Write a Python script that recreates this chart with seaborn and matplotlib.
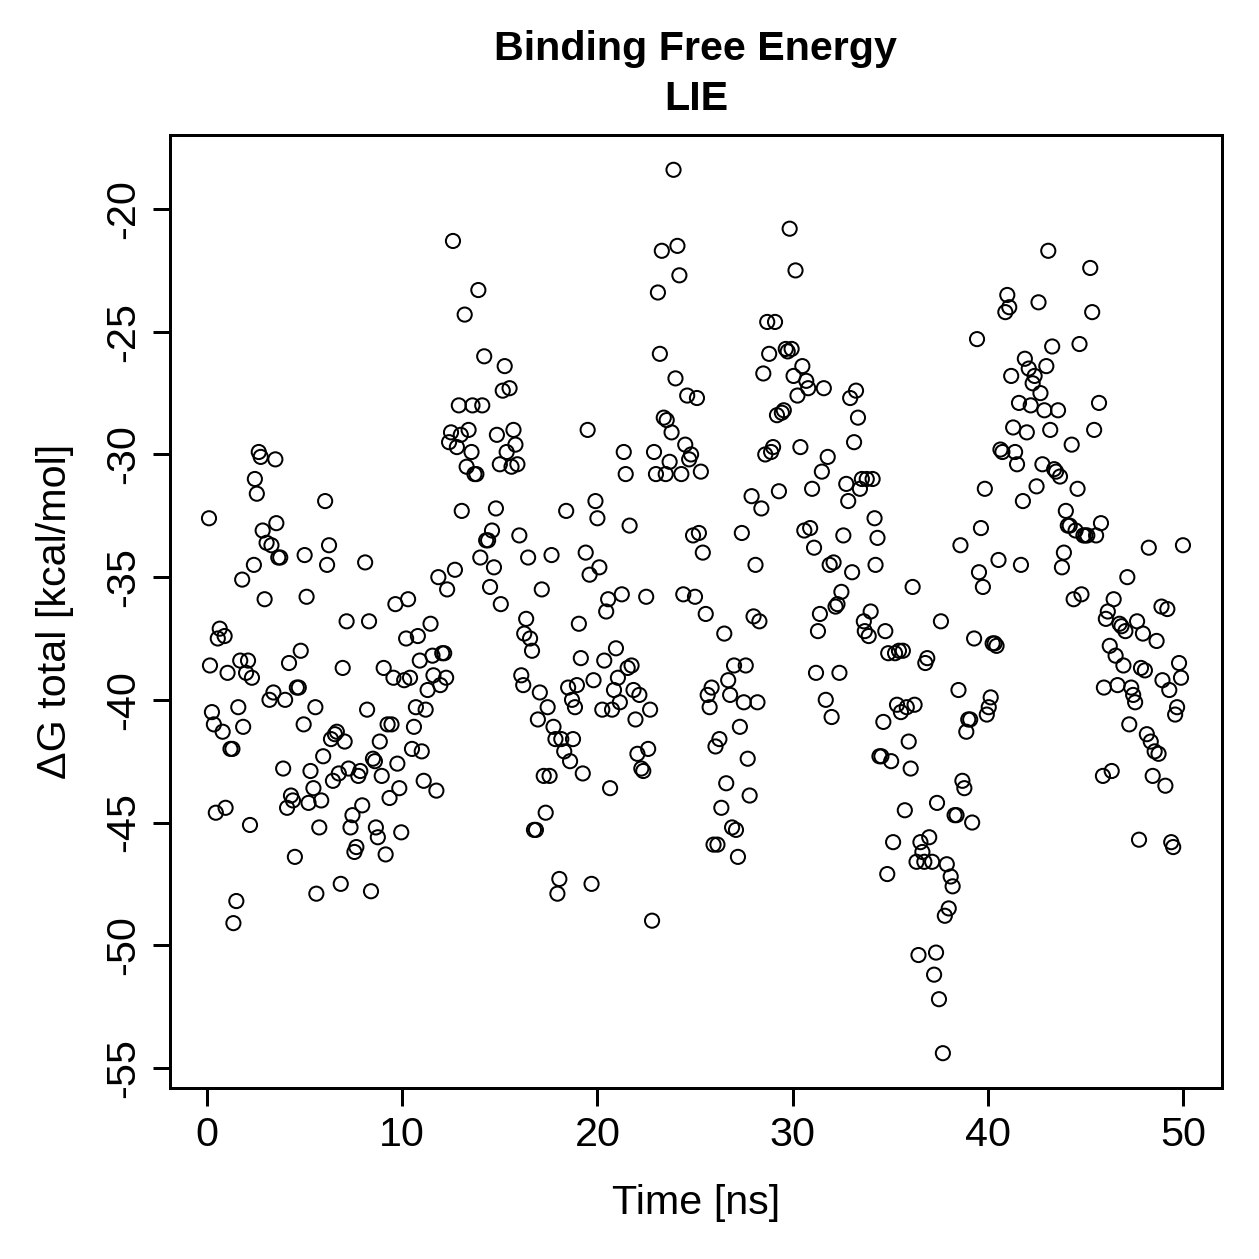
import numpy as np
import pandas as pd
import matplotlib
matplotlib.use('Agg')
import matplotlib.pyplot as plt
import seaborn as sns

# Time [ns] and Delta G total [kcal/mol]
time_ns = [
    0.1, 0.15, 0.25, 0.35, 0.45, 0.55, 0.65, 0.8, 0.9, 0.95, 1.05, 1.2, 1.3, 1.35, 1.5, 1.6, 1.7, 1.8, 1.85, 2.0,
    2.1, 2.2, 2.3, 2.4, 2.45, 2.55, 2.65, 2.75, 2.85, 2.95, 3.05, 3.2, 3.3, 3.4, 3.5, 3.55, 3.65, 3.75, 3.9, 4.0,
    4.1, 4.2, 4.3, 4.4, 4.5, 4.6, 4.7, 4.8, 4.95, 5.0,
    5.1, 5.2, 5.3, 5.45, 5.55, 5.6, 5.75, 5.85, 5.95, 6.05, 6.15, 6.25, 6.35, 6.45, 6.55, 6.65, 6.75, 6.85, 6.95, 7.05,
    7.15, 7.25, 7.35, 7.45, 7.55, 7.65, 7.75, 7.85, 7.95, 8.1, 8.2, 8.3, 8.4, 8.5, 8.6, 8.65, 8.75, 8.85, 8.95, 9.05,
    9.15, 9.25, 9.35, 9.45, 9.55, 9.65, 9.75, 9.85, 9.95, 10.1,
    10.2, 10.3, 10.4, 10.5, 10.6, 10.7, 10.8, 10.9, 11.0, 11.1, 11.2, 11.3, 11.45, 11.55, 11.6, 11.75, 11.85, 11.95, 12.05, 12.15,
    12.25, 12.3, 12.4, 12.5, 12.6, 12.7, 12.8, 12.9, 13.0, 13.05, 13.2, 13.3, 13.4, 13.55, 13.6, 13.7, 13.8, 13.9, 14.0, 14.1,
    14.2, 14.3, 14.4, 14.5, 14.6, 14.7, 14.8, 14.85, 15.0,
    15.05, 15.15, 15.25, 15.35, 15.5, 15.6, 15.7, 15.8, 15.9, 16.0, 16.1, 16.2, 16.25, 16.35, 16.45, 16.55, 16.65, 16.75, 16.85, 16.95,
    17.05, 17.15, 17.25, 17.35, 17.45, 17.55, 17.65, 17.75, 17.85, 17.95, 18.05, 18.15, 18.3, 18.4, 18.5, 18.6, 18.7, 18.75, 18.85, 18.95,
    19.05, 19.15, 19.25, 19.4, 19.5, 19.6, 19.7, 19.8, 19.9, 20.0,
    20.1, 20.25, 20.35, 20.45, 20.55, 20.65, 20.75, 20.85, 20.95, 21.05, 21.15, 21.25, 21.35, 21.45, 21.55, 21.65, 21.75, 21.85, 21.95, 22.05,
    22.15, 22.25, 22.35, 22.5, 22.6, 22.7, 22.8, 22.9, 23.0, 23.1, 23.2, 23.3, 23.4, 23.5, 23.55, 23.7, 23.8, 23.9, 24.0, 24.1,
    24.2, 24.3, 24.4, 24.5, 24.6, 24.7, 24.8, 24.9, 25.0,
    25.1, 25.2, 25.3, 25.4, 25.55, 25.65, 25.75, 25.85, 25.95, 26.05, 26.15, 26.25, 26.35, 26.5, 26.6, 26.7, 26.8, 26.9, 27.0, 27.1,
    27.2, 27.3, 27.4, 27.5, 27.6, 27.7, 27.8, 27.9, 28.0, 28.1, 28.2, 28.3, 28.4, 28.5, 28.6, 28.7, 28.8, 28.9, 29.0, 29.1,
    29.2, 29.3, 29.45, 29.55, 29.65, 29.75, 29.85, 29.95, 30.05, 30.15,
    30.25, 30.4, 30.5, 30.6, 30.7, 30.8, 30.9, 31.0, 31.1, 31.2, 31.3, 31.4, 31.5, 31.6, 31.7, 31.8, 31.9, 32.0, 32.1, 32.2,
    32.3, 32.4, 32.5, 32.6, 32.75, 32.85, 32.95, 33.05, 33.15, 33.25, 33.35, 33.45, 33.55, 33.65, 33.7, 33.8, 33.9, 34.0, 34.1, 34.2,
    34.25, 34.35, 34.45, 34.55, 34.65, 34.75, 34.85, 34.9, 35.05, 35.15,
    35.25, 35.35, 35.45, 35.55, 35.65, 35.75, 35.85, 35.95, 36.05, 36.15, 36.25, 36.35, 36.45, 36.55, 36.65, 36.75, 36.8, 36.9, 37.0, 37.15,
    37.25, 37.35, 37.4, 37.5, 37.6, 37.7, 37.8, 37.9, 38.0, 38.1, 38.2, 38.3, 38.4, 38.5, 38.6, 38.7, 38.8, 38.9, 39.0, 39.1,
    39.2, 39.3, 39.45, 39.55, 39.65, 39.75, 39.85, 39.95, 40.05, 40.15,
    40.25, 40.35, 40.45, 40.55, 40.65, 40.75, 40.9, 41.0, 41.1, 41.2, 41.3, 41.4, 41.5, 41.6, 41.7, 41.8, 41.9, 42.0, 42.1, 42.2,
    42.3, 42.4, 42.5, 42.6, 42.7, 42.8, 42.9, 43.0, 43.1, 43.2, 43.3, 43.4, 43.5, 43.6, 43.7, 43.8, 43.9, 44.0, 44.1, 44.2,
    44.3, 44.4, 44.5, 44.6, 44.7, 44.8, 44.9, 45.0, 45.1, 45.25,
    45.35, 45.45, 45.55, 45.7, 45.8, 45.9, 45.95, 46.05, 46.15, 46.25, 46.35, 46.45, 46.55, 46.65, 46.75, 46.85, 46.95, 47.05, 47.15, 47.25,
    47.35, 47.45, 47.55, 47.65, 47.75, 47.85, 47.95, 48.05, 48.15, 48.25, 48.35, 48.45, 48.55, 48.65, 48.75, 48.9, 48.95, 49.1, 49.2, 49.3,
    49.4, 49.5, 49.6, 49.7, 49.8, 49.9, 50.0,
]

dg_total = [
    -32.6, -38.6, -40.5, -41.0, -44.6, -37.5, -37.1, -41.3, -37.4, -44.4, -38.9, -42.0, -42.0, -49.1, -48.2, -40.3, -38.4, -35.1, -41.1, -38.9,
    -38.4, -45.1, -39.1, -34.5, -31.0, -31.6, -29.9, -30.1, -33.1, -35.9, -33.6, -40.0, -33.7, -39.7, -30.2, -32.8, -34.2, -34.2, -42.8, -40.0,
    -44.4, -38.5, -43.9, -44.1, -46.4, -39.5, -39.5, -38.0, -41.0, -34.1,
    -35.8, -44.2, -42.9, -43.6, -40.3, -47.9, -45.2, -44.1, -42.3, -31.9, -34.5, -33.7, -41.6, -43.3, -41.4, -41.3, -43.0, -47.5, -38.7, -41.7,
    -36.8, -42.8, -45.2, -44.7, -46.2, -46.0, -43.1, -42.9, -44.3, -34.4, -40.4, -36.8, -47.8, -42.4, -42.5, -45.2, -45.6, -41.7, -43.1, -38.7,
    -46.3, -41.0, -44.0, -41.0, -39.1, -36.1, -42.6, -43.6, -45.4, -39.2,
    -37.5, -35.9, -39.1, -42.0, -41.1, -40.3, -37.4, -38.4, -42.1, -43.3, -40.4, -39.6, -36.9, -38.2, -39.0, -43.7, -35.0, -39.4, -38.1, -38.1,
    -39.1, -35.5, -29.5, -29.1, -21.3, -34.7, -29.7, -28.0, -29.2, -32.3, -24.3, -30.5, -29.0, -29.9, -28.0, -30.8, -30.8, -23.3, -34.2, -28.0,
    -26.0, -33.5, -33.5, -35.4, -33.1, -34.6, -32.2, -29.2, -30.4,
    -36.1, -27.4, -26.4, -29.9, -27.3, -30.5, -29.0, -29.6, -30.4, -33.3, -39.0, -39.4, -37.3, -36.7, -34.2, -37.5, -38.0, -45.3, -45.3, -40.8,
    -39.7, -35.5, -43.1, -44.6, -40.3, -43.1, -34.1, -41.1, -41.6, -47.9, -47.3, -41.6, -42.1, -32.3, -39.5, -42.5, -40.0, -41.6, -40.3, -39.4,
    -36.9, -38.3, -43.0, -34.0, -29.0, -34.9, -47.5, -39.2, -31.9, -32.6,
    -34.6, -40.4, -38.4, -36.4, -35.9, -43.6, -40.4, -39.6, -37.9, -39.1, -40.1, -35.7, -29.9, -30.8, -38.7, -32.9, -38.6, -39.6, -40.8, -42.2,
    -39.8, -42.8, -42.9, -35.8, -42.0, -40.4, -49.0, -29.9, -30.8, -23.4, -25.9, -21.7, -28.5, -30.8, -28.6, -30.3, -29.1, -18.4, -26.9, -21.5,
    -22.7, -30.8, -35.7, -29.6, -27.6, -30.2, -30.0, -33.3, -35.8,
    -27.7, -33.2, -30.7, -34.0, -36.5, -39.8, -40.3, -39.5, -45.9, -41.9, -45.9, -41.6, -44.4, -37.3, -43.4, -39.2, -39.8, -45.2, -38.6, -45.3,
    -46.4, -41.1, -33.2, -40.1, -38.6, -42.4, -43.9, -31.7, -36.6, -34.5, -40.1, -36.8, -32.2, -26.7, -30.0, -24.6, -25.9, -29.9, -29.7, -24.6,
    -28.4, -31.5, -28.3, -28.2, -25.7, -25.8, -20.8, -25.7, -26.8, -22.5,
    -27.6, -29.7, -26.4, -33.1, -27.0, -27.3, -33.0, -31.4, -33.8, -38.9, -37.2, -36.5, -30.7, -27.3, -40.0, -30.1, -34.5, -40.7, -34.4, -36.2,
    -36.1, -38.9, -35.6, -33.3, -31.2, -31.9, -27.7, -34.8, -29.5, -27.4, -28.5, -31.4, -31.0, -36.8, -37.2, -31.0, -37.4, -36.4, -31.0, -32.6,
    -34.5, -33.4, -42.3, -42.3, -40.9, -37.2, -47.1, -38.1, -42.5, -45.8,
    -38.1, -40.2, -38.0, -40.5, -38.0, -44.5, -40.3, -41.7, -42.8, -35.4, -40.2, -46.6, -50.4, -45.8, -46.2, -46.6, -38.5, -38.3, -45.6, -46.6,
    -51.2, -50.3, -44.2, -52.2, -36.8, -54.4, -48.8, -46.7, -48.5, -47.2, -47.6, -44.7, -44.7, -39.6, -33.7, -43.3, -43.6, -41.3, -40.8, -40.8,
    -45.0, -37.5, -25.3, -34.8, -33.0, -35.4, -31.4, -40.6, -40.3, -39.9,
    -37.7, -37.7, -37.8, -34.3, -29.8, -29.9, -24.2, -23.5, -24.0, -26.8, -28.9, -29.9, -30.4, -27.9, -34.5, -31.9, -26.1, -29.1, -26.5, -28.0,
    -27.1, -26.8, -31.3, -23.8, -27.5, -30.4, -28.2, -26.4, -21.7, -29.0, -25.6, -30.6, -30.7, -28.2, -30.9, -34.6, -34.0, -32.3, -32.9, -32.9,
    -29.6, -35.9, -33.1, -31.4, -25.5, -35.7, -33.3, -33.3, -33.3, -22.4,
    -24.2, -29.0, -33.3, -27.9, -32.8, -43.1, -39.5, -36.7, -36.4, -37.8, -42.9, -35.9, -38.2, -39.4, -36.9, -37.0, -38.6, -37.2, -35.0, -41.0,
    -39.5, -39.8, -40.1, -36.8, -45.7, -38.7, -37.3, -38.8, -41.4, -33.8, -41.7, -43.1, -42.1, -37.6, -42.2, -36.2, -39.2, -43.5, -36.3, -39.6,
    -45.8, -46.0, -40.6, -40.3, -38.5, -39.1, -33.7,
]

x_ticks = [0, 10, 20, 30, 40, 50]
y_ticks = [-20, -25, -30, -35, -40, -45, -50, -55]

df = pd.DataFrame({'time': time_ns, 'dg': dg_total})

sns.set_style('ticks')
plt.rcParams['font.family'] = ['Liberation Sans', 'DejaVu Sans']
plt.rcParams['text.color'] = 'black'
plt.rcParams['axes.labelcolor'] = 'black'
plt.rcParams['xtick.color'] = 'black'
plt.rcParams['ytick.color'] = 'black'

fig = plt.figure(figsize=(1259 / 180, 1259 / 180), dpi=180)
ax = fig.add_axes([0.135, 0.1358, 0.8356, 0.757])

sns.scatterplot(data=df, x='time', y='dg', ax=ax, marker='o', s=32,
                facecolor='none', edgecolor='black', linewidth=0.8)

ax.set_xlim(-1.9, 52.0)
ax.set_ylim(-55.82, -16.98)
ax.set_xticks(x_ticks)
ax.set_yticks(y_ticks)
ax.set_yticklabels([str(v) for v in y_ticks], rotation=90, va='center')
ax.tick_params(axis='both', direction='out', length=7, width=1.2, labelsize=16.5, color='black')
ax.tick_params(axis='x', pad=4)
ax.tick_params(axis='y', pad=4)
for sp in ax.spines.values():
    sp.set_visible(True)
    sp.set_linewidth(1.2)
    sp.set_color('black')

ax.set_xlabel('Time [ns]', fontsize=16.5, labelpad=12)
ax.set_ylabel('ΔG total [kcal/mol]', fontsize=16.5, labelpad=12)
ax.set_title('Binding Free Energy\nLIE', fontsize=16.5, fontweight='bold', pad=10, linespacing=1.4)

fig.savefig('out.png', dpi=180)
plt.close(fig)
